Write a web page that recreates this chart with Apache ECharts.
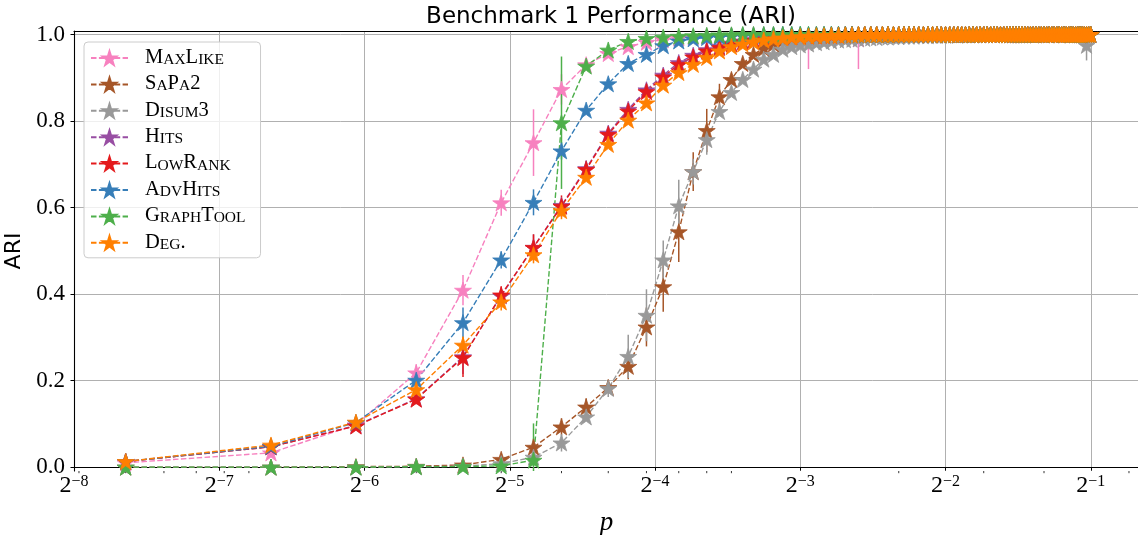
<!DOCTYPE html>
<html>
<head>
<meta charset="utf-8">
<script src="https://cdn.jsdelivr.net/npm/echarts@6/dist/echarts.min.js"></script>
<style>
  html, body { margin: 0; padding: 0; background: #ffffff; }
  #chart { width: 1138px; height: 535px; }
</style>
</head>
<body>
<div id="chart"></div>
<script>
// Edge probability p (x) for every benchmark run
const pValues = [
  0.005, 0.01, 0.015, 0.02, 0.025, 0.03, 0.035, 0.04, 0.045, 0.05,
  0.055, 0.06, 0.065, 0.07, 0.075, 0.08, 0.085, 0.09, 0.095, 0.1,
  0.105, 0.11, 0.115, 0.12, 0.125, 0.13, 0.135, 0.14, 0.145, 0.15,
  0.155, 0.16, 0.165, 0.17, 0.175, 0.18, 0.185, 0.19, 0.195, 0.2,
  0.205, 0.21, 0.215, 0.22, 0.225, 0.23, 0.235, 0.24, 0.245, 0.25,
  0.255, 0.26, 0.265, 0.27, 0.275, 0.28, 0.285, 0.29, 0.295, 0.3,
  0.305, 0.31, 0.315, 0.32, 0.325, 0.33, 0.335, 0.34, 0.345, 0.35,
  0.355, 0.36, 0.365, 0.37, 0.375, 0.38, 0.385, 0.39, 0.395, 0.4,
  0.405, 0.41, 0.415, 0.42, 0.425, 0.43, 0.435, 0.44, 0.445, 0.45,
  0.455, 0.46, 0.465, 0.47, 0.475, 0.48, 0.485, 0.49, 0.495, 0.5
];

const seriesNames = ['MaxLike', 'SaPa2', 'Disum3', 'Hits', 'LowRank', 'AdvHits', 'GraphTool', 'Deg.'];
const seriesColors = ['#f781bf', '#a65628', '#999999', '#984ea3', '#e41a1c', '#377eb8', '#4daf4a', '#ff7f00'];

// Mean ARI per method
const maxLikeAri = [
  0.010, 0.033, 0.098, 0.218, 0.409, 0.611, 0.750, 0.873, 0.930, 0.956,
  0.972, 0.982, 0.988, 0.992, 0.994, 0.996, 0.997, 0.998, 0.998, 0.999,
  0.999, 0.999, 0.999, 0.999, 0.999, 0.990, 1, 1, 1, 1,
  1, 1, 0.990, 1, 1, 1, 1, 1, 1, 1,
  1, 1, 1, 1, 1, 1, 1, 1, 1, 1,
  1, 1, 1, 1, 1, 1, 1, 1, 1, 1,
  1, 1, 1, 1, 1, 1, 1, 1, 1, 1,
  1, 1, 1, 1, 1, 1, 1, 1, 1, 1,
  1, 1, 1, 1, 1, 1, 1, 1, 1, 1,
  1, 1, 1, 1, 1, 1, 1, 1, 1, 1
];
const sapa2Ari = [
  0, 0, 0.001, 0.002, 0.005, 0.018, 0.046, 0.093, 0.139, 0.184,
  0.233, 0.324, 0.417, 0.544, 0.683, 0.778, 0.856, 0.896, 0.933, 0.954,
  0.968, 0.978, 0.987, 0.990, 0.993, 0.995, 0.996, 0.997, 0.998, 0.998,
  0.999, 0.999, 0.999, 1, 1, 1, 1, 1, 1, 1,
  1, 1, 1, 1, 1, 1, 1, 1, 1, 1,
  1, 1, 1, 1, 1, 1, 1, 1, 1, 1,
  1, 1, 1, 1, 1, 1, 1, 1, 1, 1,
  1, 1, 1, 1, 1, 1, 1, 1, 1, 1,
  1, 1, 1, 1, 1, 1, 1, 1, 1, 1,
  1, 1, 1, 1, 1, 1, 1, 1, 1, 1
];
const disum3Ari = [
  0, 0, 0, 0.001, 0.002, 0.008, 0.023, 0.056, 0.116, 0.182,
  0.256, 0.351, 0.479, 0.604, 0.683, 0.757, 0.822, 0.866, 0.896, 0.920,
  0.943, 0.954, 0.966, 0.972, 0.976, 0.978, 0.981, 0.983, 0.985, 0.987,
  0.988, 0.989, 0.990, 0.991, 0.992, 0.993, 0.994, 0.994, 0.995, 0.995,
  0.996, 0.996, 0.996, 0.997, 0.997, 0.997, 0.998, 0.998, 0.998, 0.998,
  0.999, 0.999, 0.998, 0.999, 0.999, 0.999, 1, 0.999, 1, 1,
  1, 1, 1, 1, 1, 1, 1, 1, 1, 1,
  1, 1, 1, 1, 1, 1, 1, 1, 1, 1,
  1, 1, 1, 1, 1, 1, 1, 1, 1, 1,
  1, 1, 1, 1, 1, 1, 1, 0.975, 1, 1
];
const hitsAri = [
  0.013, 0.047, 0.096, 0.158, 0.255, 0.396, 0.508, 0.605, 0.690, 0.772,
  0.827, 0.872, 0.906, 0.935, 0.952, 0.965, 0.973, 0.980, 0.985, 0.988,
  0.991, 0.993, 0.995, 0.996, 0.997, 0.997, 0.998, 0.998, 0.999, 0.999,
  1, 1, 1, 1, 1, 1, 1, 1, 1, 1,
  1, 1, 1, 1, 1, 1, 1, 1, 1, 1,
  1, 1, 1, 1, 1, 1, 1, 1, 1, 1,
  1, 1, 1, 1, 1, 1, 1, 1, 1, 1,
  1, 1, 1, 1, 1, 1, 1, 1, 1, 1,
  1, 1, 1, 1, 1, 1, 1, 1, 1, 1,
  1, 1, 1, 1, 1, 1, 1, 1, 1, 1
];
const lowRankAri = [
  0.013, 0.047, 0.095, 0.157, 0.253, 0.398, 0.508, 0.603, 0.688, 0.769,
  0.823, 0.868, 0.902, 0.931, 0.948, 0.962, 0.970, 0.978, 0.983, 0.987,
  0.990, 0.992, 0.994, 0.995, 0.996, 0.997, 0.997, 0.998, 0.998, 0.999,
  0.999, 1, 1, 1, 1, 1, 1, 1, 1, 1,
  1, 1, 1, 1, 1, 1, 1, 1, 1, 1,
  1, 1, 1, 1, 1, 1, 1, 1, 1, 1,
  1, 1, 1, 1, 1, 1, 1, 1, 1, 1,
  1, 1, 1, 1, 1, 1, 1, 1, 1, 1,
  1, 1, 1, 1, 1, 1, 1, 1, 1, 1,
  1, 1, 1, 1, 1, 1, 1, 1, 1, 1
];
const advHitsAri = [
  0.013, 0.048, 0.103, 0.201, 0.334, 0.479, 0.612, 0.731, 0.825, 0.886,
  0.933, 0.954, 0.974, 0.985, 0.990, 0.993, 0.995, 0.997, 0.998, 0.998,
  0.999, 0.999, 1, 1, 1, 1, 1, 1, 1, 1,
  1, 1, 1, 1, 1, 1, 1, 1, 1, 1,
  1, 1, 1, 1, 1, 1, 1, 1, 1, 1,
  1, 1, 1, 1, 1, 1, 1, 1, 1, 1,
  1, 1, 1, 1, 1, 1, 1, 1, 1, 1,
  1, 1, 1, 1, 1, 1, 1, 1, 1, 1,
  1, 1, 1, 1, 1, 1, 1, 1, 1, 1,
  1, 1, 1, 1, 1, 1, 1, 1, 1, 1
];
const graphToolAri = [
  0, 0, 0, 0.001, 0.001, 0.003, 0.016, 0.796, 0.927, 0.964,
  0.984, 0.991, 0.994, 0.996, 0.997, 0.998, 0.999, 0.999, 1, 1,
  1, 1, 1, 1, 1, 1, 1, 1, 1, 1,
  1, 1, 1, 1, 1, 1, 1, 1, 1, 1,
  1, 1, 1, 1, 1, 1, 1, 1, 1, 1,
  1, 1, 1, 1, 1, 1, 1, 1, 1, 1,
  1, 1, 1, 1, 1, 1, 1, 1, 1, 1,
  1, 1, 1, 1, 1, 1, 1, 1, 1, 1,
  1, 1, 1, 1, 1, 1, 1, 1, 1, 1,
  1, 1, 1, 1, 1, 1, 1, 1, 1, 1
];
const degAri = [
  0.013, 0.051, 0.104, 0.179, 0.282, 0.382, 0.491, 0.593, 0.670, 0.746,
  0.802, 0.842, 0.883, 0.912, 0.931, 0.947, 0.962, 0.972, 0.978, 0.983,
  0.987, 0.990, 0.992, 0.994, 0.995, 0.996, 0.997, 0.997, 0.998, 0.998,
  0.999, 0.999, 1, 1, 1, 1, 1, 1, 1, 1,
  1, 1, 1, 1, 1, 1, 1, 1, 1, 1,
  1, 1, 1, 1, 1, 1, 1, 1, 1, 1,
  1, 1, 1, 1, 1, 1, 1, 1, 1, 1,
  1, 1, 1, 1, 1, 1, 1, 1, 1, 1,
  1, 1, 1, 1, 1, 1, 1, 1, 1, 1,
  1, 1, 1, 1, 1, 1, 1, 1, 1, 1
];

// Standard deviations where they are large enough to show: [index into pValues, std]
const maxLikeStd = [[3, 0.02], [4, 0.035], [5, 0.03], [6, 0.077], [7, 0.035], [25, 0.07], [32, 0.07]];
const sapa2Std = [[5, 0.01], [6, 0.02], [7, 0.02], [8, 0.02], [10, 0.03], [11, 0.045], [12, 0.058], [13, 0.07], [14, 0.045], [15, 0.05], [16, 0.03]];
const disum3Std = [[6, 0.01], [7, 0.02], [9, 0.02], [10, 0.05], [11, 0.06], [12, 0.045], [13, 0.06], [14, 0.03], [15, 0.035], [97, 0.035]];
const hitsStd = [[4, 0.04], [6, 0.03]];
const lowRankStd = [[3, 0.012], [4, 0.045], [5, 0.02], [6, 0.03], [7, 0.025], [8, 0.02]];
const advHitsStd = [[4, 0.035], [5, 0.02], [6, 0.03], [7, 0.02]];
const graphToolStd = [[6, 0.085], [7, 0.153]];
const degStd = [[4, 0.02], [5, 0.02], [6, 0.02], [7, 0.02]];

const seriesAri = [maxLikeAri, sapa2Ari, disum3Ari, hitsAri, lowRankAri, advHitsAri, graphToolAri, degAri];
const seriesStd = [maxLikeStd, sapa2Std, disum3Std, hitsStd, lowRankStd, advHitsStd, graphToolStd, degStd];

// Axis ticks
const yTickValues = [0, 0.2, 0.4, 0.6, 0.8, 1.0];
const xMinorTickP = [0.004, 0.005, 0.006, 0.007, 0.008, 0.009,
  0.02, 0.03, 0.04, 0.05, 0.06, 0.07, 0.08, 0.09,
  0.2, 0.3, 0.4, 0.6];

const X_MIN = Math.pow(2, -8);
const X_MAX = Math.pow(2, -0.668);
const Y_MIN = -0.009;
const Y_MAX = 1.008;

const SERIF = '"Liberation Serif", "DejaVu Serif", serif';
const SANS = '"DejaVu Sans", sans-serif';

// Five-pointed star marker
function starSymbol() {
  const pts = [];
  for (let k = 0; k < 10; k++) {
    const r = k % 2 === 0 ? 50 : 50 * 0.381966;
    const a = -Math.PI / 2 + k * Math.PI / 5;
    pts.push((50 + r * Math.cos(a)).toFixed(3) + ',' + (50 + r * Math.sin(a)).toFixed(3));
  }
  return 'path://M' + pts.join('L') + 'Z';
}
const STAR = starSymbol();

// Legend labels in small capitals
function smallCaps(name) {
  let out = '{sp| }';
  let i = 0;
  const isLower = ch => ch >= 'a' && ch <= 'z';
  while (i < name.length) {
    let j = i;
    if (isLower(name[i])) {
      while (j < name.length && isLower(name[j])) j++;
      out += '{s|' + name.slice(i, j).toUpperCase() + '}';
    } else {
      while (j < name.length && !isLower(name[j])) j++;
      out += '{c|' + name.slice(i, j) + '}';
    }
    i = j;
  }
  return out;
}

function errorBarSeries(k) {
  const vals = seriesAri[k];
  const color = seriesColors[k];
  return {
    type: 'custom',
    name: seriesNames[k] + ' std',
    silent: true,
    clip: true,
    data: seriesStd[k].map(([i, s]) => [pValues[i], vals[i], s]),
    encode: { x: 0, y: 1 },
    renderItem(params, api) {
      const p = api.value(0), v = api.value(1), s = api.value(2);
      const a = api.coord([p, v - s]);
      const b = api.coord([p, v + s]);
      return {
        type: 'line',
        shape: { x1: a[0], y1: a[1], x2: b[0], y2: b[1] },
        style: { stroke: color, lineWidth: 1.5 }
      };
    }
  };
}

function lineSeries(k) {
  const color = seriesColors[k];
  return {
    type: 'line',
    name: seriesNames[k],
    data: pValues.map((p, i) => [p, seriesAri[k][i]]),
    clip: true,
    symbol: STAR,
    symbolSize: 17,
    symbolKeepAspect: true,
    showAllSymbol: true,
    itemStyle: { color: color, borderColor: color, borderWidth: 0.8 },
    lineStyle: { color: color, width: 1.4, type: [5.5, 2.4] },
    emphasis: { disabled: true }
  };
}

const series = [];
// minor ticks of the log axis
series.push({
  type: 'custom',
  name: 'minor ticks',
  silent: true,
  clip: false,
  data: xMinorTickP.map(p => [p, Y_MIN]),
  encode: { x: 0, y: 1 },
  renderItem(params, api) {
    const c = api.coord([api.value(0), Y_MIN]);
    return {
      type: 'line',
      shape: { x1: c[0], y1: c[1], x2: c[0], y2: c[1] + 2.2 },
      style: { stroke: '#000', lineWidth: 0.8 }
    };
  }
});
for (let k = 0; k < seriesNames.length; k++) {
  series.push(errorBarSeries(k));
  series.push(lineSeries(k));
}

const chart = echarts.init(document.getElementById('chart'), null, { renderer: 'canvas' });
chart.setOption({
  animation: false,
  backgroundColor: '#ffffff',
  title: {
    text: 'Benchmark 1 Performance (ARI)',
    left: 606,
    textAlign: 'center',
    top: 1,
    textStyle: { fontFamily: SANS, fontSize: 23, fontWeight: 'normal', color: '#000' }
  },
  grid: { left: 74, right: -1, top: 31, bottom: 64, containLabel: false, outerBoundsMode: 'none' },
  legend: {
    data: seriesNames,
    orient: 'vertical',
    left: 84,
    top: 42,
    itemWidth: 37,
    itemHeight: 17,
    itemGap: 5.4,
    padding: [5, 15, 5, 6],
    backgroundColor: 'rgba(255,255,255,0.8)',
    borderColor: '#cccccc',
    borderWidth: 1,
    borderRadius: 4,
    selectedMode: false,
    formatter: smallCaps,
    textStyle: {
      color: '#000',
      rich: {
        sp: { width: 12 },
        c: { fontFamily: SERIF, fontSize: 20.5, lineHeight: 20, verticalAlign: 'bottom', color: '#000' },
        s: { fontFamily: SERIF, fontSize: 15.5, lineHeight: 15.5, verticalAlign: 'bottom', color: '#000' }
      }
    }
  },
  xAxis: [
    {
      type: 'log',
      logBase: 2,
      min: X_MIN,
      max: X_MAX,
      splitNumber: 8,
      name: 'p',
      nameLocation: 'middle',
      nameGap: 38,
      nameTextStyle: { fontFamily: SERIF, fontStyle: 'italic', fontSize: 27, color: '#000' },
      axisLine: { show: true, lineStyle: { color: '#000', width: 1.1 } },
      axisTick: { show: true, length: 3.5, lineStyle: { color: '#000', width: 1 } },
      splitLine: { show: true, lineStyle: { color: '#b0b0b0', width: 1 } },
      axisLabel: {
        margin: 3,
        formatter: v => {
          const e = Math.log2(v);
          if (Math.abs(e - Math.round(e)) > 1e-6) return '';
          return '{b|2}{e|\u2212' + Math.abs(Math.round(e)) + '}';
        },
        rich: {
          b: { fontFamily: SERIF, fontSize: 24, lineHeight: 26, verticalAlign: 'top', color: '#000' },
          e: { fontFamily: SERIF, fontSize: 16, lineHeight: 13, verticalAlign: 'top', color: '#000' }
        }
      }
    },
    {
      type: 'log',
      logBase: 2,
      min: X_MIN,
      max: X_MAX,
      position: 'top',
      axisLine: { show: true, lineStyle: { color: '#000', width: 1.1 } },
      axisTick: { show: false },
      axisLabel: { show: false },
      splitLine: { show: false }
    }
  ],
  yAxis: {
    type: 'value',
    min: Y_MIN,
    max: Y_MAX,
    name: 'ARI',
    nameLocation: 'middle',
    nameGap: 43,
    nameRotate: 90,
    nameTextStyle: { fontFamily: SANS, fontSize: 22, color: '#000' },
    axisLine: { show: true, lineStyle: { color: '#000', width: 1.1 } },
    axisTick: { show: true, length: 3.5, lineStyle: { color: '#000', width: 1 }, customValues: yTickValues },
    splitLine: { show: true, lineStyle: { color: '#b0b0b0', width: 1 } },
    axisLabel: {
      margin: 9,
      customValues: yTickValues,
      formatter: v => v.toFixed(1),
      fontFamily: SERIF,
      fontSize: 23,
      color: '#000'
    }
  },
  series: series
});
</script>
</body>
</html>
